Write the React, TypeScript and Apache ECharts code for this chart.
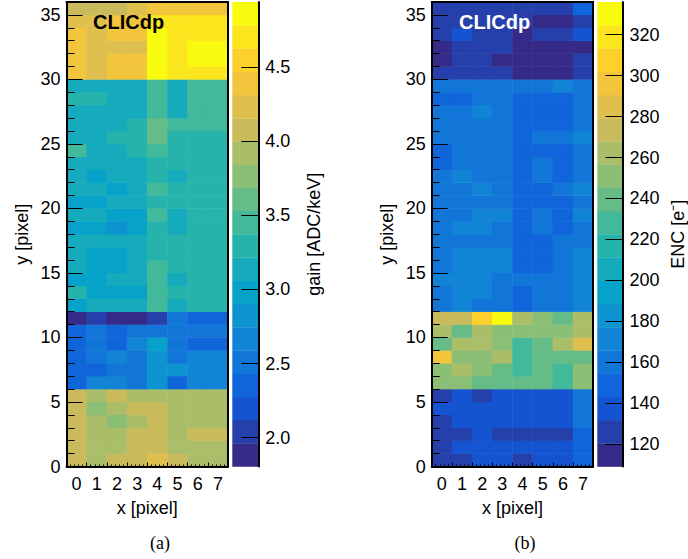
import React, { useEffect, useRef } from "react";
import * as echarts from "echarts";

// ---------- data ----------
const xCategories = ["0", "1", "2", "3", "4", "5", "6", "7"];
const yTickLabels = [0, 5, 10, 15, 20, 25, 30, 35];
const gainTicks = [2.0, 2.5, 3.0, 3.5, 4.0, 4.5];
const encTicks = [120, 140, 160, 180, 200, 220, 240, 260, 280, 300, 320];
const gainRange = [1.805, 4.94];
const encRange = [109, 336];
const nLevels = 20;

// gain [ADC/keV], rows from y = 0 (bottom) to y = 35 (top), columns x = 0..7
const gainRows = [
  [4.08, 3.92, 4.08, 4.08, 4.24, 4.08, 3.92, 3.92],
  [4.08, 3.92, 3.92, 4.08, 4.08, 3.92, 3.92, 3.92],
  [4.08, 3.92, 3.92, 4.08, 4.08, 3.92, 4.08, 4.08],
  [4.08, 3.92, 3.77, 3.92, 4.08, 3.92, 3.92, 3.92],
  [4.08, 3.77, 3.92, 4.08, 4.08, 3.92, 3.92, 3.92],
  [4.08, 3.92, 4.08, 3.92, 3.92, 3.92, 3.92, 3.92],
  [2.35, 2.67, 2.67, 2.51, 2.82, 2.35, 2.67, 2.67],
  [2.35, 2.35, 2.51, 2.51, 2.82, 2.82, 2.67, 2.67],
  [2.35, 2.51, 2.67, 2.51, 2.82, 2.51, 2.67, 2.67],
  [2.35, 2.51, 2.35, 2.67, 2.98, 2.51, 2.35, 2.35],
  [2.35, 2.51, 2.35, 2.51, 2.51, 2.51, 2.51, 2.51],
  [1.88, 2.04, 1.88, 1.88, 2.04, 2.51, 2.35, 2.35],
  [2.98, 3.14, 3.14, 3.14, 3.45, 3.14, 3.29, 3.29],
  [3.29, 2.98, 2.98, 2.98, 3.45, 3.29, 3.29, 3.29],
  [2.98, 2.98, 3.14, 3.14, 3.45, 3.14, 3.29, 3.29],
  [3.14, 2.98, 2.98, 3.14, 3.45, 3.29, 3.29, 3.29],
  [3.14, 2.98, 2.98, 3.14, 3.29, 3.29, 3.29, 3.29],
  [3.14, 3.14, 3.14, 3.14, 3.29, 3.29, 3.29, 3.29],
  [2.98, 2.98, 2.82, 2.98, 3.29, 3.14, 3.29, 3.29],
  [3.14, 3.14, 2.98, 2.98, 3.45, 3.14, 3.29, 3.29],
  [2.98, 2.98, 3.14, 3.14, 3.29, 3.29, 3.29, 3.29],
  [3.14, 3.14, 2.98, 3.14, 3.45, 3.29, 3.29, 3.29],
  [3.14, 2.98, 3.14, 3.14, 3.29, 3.14, 3.29, 3.29],
  [3.14, 3.14, 3.14, 3.14, 3.29, 3.29, 3.29, 3.29],
  [3.45, 3.14, 3.14, 3.29, 3.45, 3.29, 3.29, 3.29],
  [3.14, 3.14, 3.29, 3.29, 3.61, 3.29, 3.29, 3.29],
  [3.14, 3.14, 3.14, 3.29, 3.61, 3.45, 3.45, 3.45],
  [3.14, 3.14, 3.14, 3.14, 3.45, 3.14, 3.45, 3.45],
  [3.29, 3.29, 3.14, 3.14, 3.45, 3.14, 3.45, 3.45],
  [3.14, 3.14, 3.14, 3.14, 3.45, 3.14, 3.45, 3.45],
  [4.39, 4.24, 4.39, 4.39, 4.86, 4.71, 4.71, 4.71],
  [4.39, 4.24, 4.39, 4.39, 4.86, 4.71, 4.86, 4.86],
  [4.39, 4.24, 4.24, 4.24, 4.86, 4.71, 4.86, 4.86],
  [4.39, 4.24, 4.39, 4.39, 4.86, 4.71, 4.71, 4.71],
  [4.24, 4.24, 4.39, 4.39, 4.71, 4.71, 4.71, 4.71],
  [4.08, 4.08, 4.08, 4.24, 4.39, 4.39, 4.39, 4.39],
];

// ENC [e-], rows from y = 0 (bottom) to y = 35 (top), columns x = 0..7
const encRows = [
  [126, 126, 137, 137, 126, 137, 137, 149],
  [126, 137, 137, 137, 137, 137, 137, 149],
  [126, 126, 137, 126, 126, 126, 126, 149],
  [126, 137, 137, 137, 137, 137, 137, 160],
  [137, 137, 137, 137, 137, 137, 137, 160],
  [126, 137, 126, 137, 137, 137, 137, 160],
  [251, 251, 240, 240, 240, 240, 228, 251],
  [251, 262, 251, 240, 228, 240, 228, 251],
  [296, 251, 251, 262, 228, 240, 240, 240],
  [240, 262, 262, 251, 228, 240, 262, 285],
  [262, 240, 262, 251, 251, 251, 251, 262],
  [274, 274, 308, 330, 262, 251, 240, 262],
  [160, 171, 160, 160, 149, 160, 160, 171],
  [160, 171, 171, 160, 149, 160, 160, 171],
  [171, 171, 171, 160, 160, 160, 160, 171],
  [160, 171, 171, 171, 149, 149, 160, 171],
  [160, 171, 171, 171, 149, 149, 160, 171],
  [160, 160, 160, 160, 149, 149, 160, 160],
  [160, 171, 171, 160, 149, 160, 149, 160],
  [160, 160, 171, 171, 149, 160, 149, 171],
  [160, 160, 160, 160, 149, 149, 149, 160],
  [160, 160, 171, 160, 149, 149, 160, 171],
  [160, 171, 160, 160, 149, 160, 149, 160],
  [149, 160, 160, 160, 149, 160, 149, 160],
  [149, 160, 160, 160, 149, 149, 149, 160],
  [160, 160, 160, 160, 149, 160, 160, 171],
  [160, 160, 160, 160, 149, 149, 149, 160],
  [160, 160, 171, 160, 149, 149, 149, 160],
  [149, 149, 160, 160, 149, 149, 149, 160],
  [160, 160, 160, 160, 160, 160, 171, 160],
  [126, 126, 126, 126, 115, 115, 115, 126],
  [115, 126, 126, 115, 115, 115, 115, 126],
  [115, 126, 126, 126, 115, 115, 115, 115],
  [126, 137, 126, 126, 115, 126, 126, 137],
  [126, 126, 126, 126, 126, 115, 115, 126],
  [126, 126, 126, 126, 126, 126, 126, 149],
];

// ---------- palette (ROOT kBird) ----------
const birdR = [0.2082, 0.0592, 0.078, 0.0232, 0.1802, 0.5301, 0.8186, 0.9956, 0.9764];
const birdG = [0.1664, 0.3599, 0.5041, 0.6419, 0.7178, 0.7492, 0.7328, 0.7862, 0.9832];
const birdB = [0.5293, 0.8684, 0.8385, 0.7914, 0.6425, 0.4662, 0.3499, 0.1968, 0.0539];
function bird(t: number) {
  const s = t * 8;
  const k = Math.min(7, Math.floor(s));
  const f = s - k;
  const c = (a: number[]) => Math.round((a[k] + (a[k + 1] - a[k]) * f) * 255);
  return `rgb(${c(birdR)},${c(birdG)},${c(birdB)})`;
}
const palette = Array.from({ length: nLevels }, (_, i) => bird(i / (nLevels - 1)));

const FONT = '"Liberation Sans", Arial, Helvetica, sans-serif';
const axisText = { color: "#000", fontSize: 18, fontFamily: FONT };
const black = { color: "#000", width: 1 };
const frame = { color: "#000", width: 2 };

function buildOption() {
  const grid: any[] = [];
  const xAxis: any[] = [];
  const yAxis: any[] = [];
  const series: any[] = [];
  const visualMap: any[] = [];

  function addPanel(
    left: number,
    barLeft: number,
    rows: number[][],
    range: number[],
    ticks: number[],
    fmt: (v: number) => string,
    title: string
  ) {
    const top = 2;
    const h = 464.5;
    const gh = grid.length;
    grid.push({ left, top, width: 161.5, height: h, show: false });
    const gc = grid.length;
    grid.push({ left: barLeft, top, width: 26, height: h, show: false });

    const xi = xAxis.length;
    xAxis.push({
      type: "category",
      gridIndex: gh,
      data: xCategories,
      position: "bottom",
      z: 5,
      axisLine: { show: true, onZero: false, lineStyle: frame },
      axisTick: { show: true, inside: true, length: 4, alignWithLabel: false, interval: 0, lineStyle: black },
      axisLabel: { ...axisText, margin: 8, interval: 0 },
      splitLine: { show: false },
      name: "x [pixel]",
      nameLocation: "middle",
      nameGap: 32.5,
      nameTextStyle: axisText,
    });
    xAxis.push({
      type: "value",
      gridIndex: gh,
      position: "top",
      min: 0,
      max: 8,
      z: 5,
      axisLine: { show: true, onZero: false, lineStyle: frame },
      axisTick: { show: false },
      axisLabel: { show: false },
      splitLine: { show: false },
    });
    xAxis.push({
      type: "value",
      gridIndex: gh,
      position: "bottom",
      min: 0,
      max: 8,
      interval: 0.2,
      z: 5,
      axisLine: { show: false, onZero: false },
      axisTick: { show: true, inside: true, length: 2, lineStyle: black },
      axisLabel: { show: false },
      splitLine: { show: false },
    });

    const yi = yAxis.length;
    yAxis.push({
      type: "category",
      gridIndex: gh,
      data: rows.map((_, i) => String(i)),
      position: "left",
      z: 5,
      axisLine: { show: true, onZero: false, lineStyle: frame },
      axisTick: { show: true, inside: true, length: 8, alignWithLabel: false, interval: 0, lineStyle: black },
      axisLabel: { show: false },
      splitLine: { show: false },
    });
    yAxis.push({
      type: "value",
      gridIndex: gh,
      position: "left",
      min: 0,
      max: rows.length,
      z: 5,
      axisLine: { show: false, onZero: false },
      axisTick: { show: true, inside: true, length: 16, customValues: yTickLabels, lineStyle: black },
      axisLabel: { ...axisText, customValues: yTickLabels, margin: 6 },
      splitLine: { show: false },
      name: "y [pixel]",
      nameLocation: "middle",
      nameGap: 35.5,
      nameRotate: 90,
      nameTextStyle: axisText,
    });
    yAxis.push({
      type: "value",
      gridIndex: gh,
      position: "right",
      min: 0,
      max: rows.length,
      z: 5,
      axisLine: { show: true, onZero: false, lineStyle: frame },
      axisTick: { show: false },
      axisLabel: { show: false },
      splitLine: { show: false },
    });

    const bxi = xAxis.length;
    xAxis.push({ type: "value", gridIndex: gc, min: 0, max: 1, show: false });
    const byi = yAxis.length;
    yAxis.push({
      type: "value",
      gridIndex: gc,
      position: "right",
      min: range[0],
      max: range[1],
      z: 5,
      axisLine: { show: true, onZero: false, lineStyle: frame },
      axisTick: { show: true, inside: true, length: 17, customValues: ticks, lineStyle: black },
      axisLabel: { ...axisText, customValues: ticks, formatter: fmt, margin: 7 },
      splitLine: { show: false },
      name: title,
      nameLocation: "middle",
      nameGap: 46.5,
      nameRotate: 90,
      nameTextStyle: axisText,
    });

    const step = (range[1] - range[0]) / nLevels;
    const pieces = palette.map((color, i) => ({
      gte: range[0] + i * step,
      lt: range[0] + (i + 1) * step,
      color,
    }));
    const si = series.length;
    series.push({
      type: "heatmap",
      xAxisIndex: xi,
      yAxisIndex: yi,
      z: 2,
      emphasis: { disabled: true },
      itemStyle: { borderWidth: 0 },
      data: rows.flatMap((row, y) => row.map((v, x) => [x, y, v])),
    });
    visualMap.push({ type: "piecewise", show: false, seriesIndex: si, dimension: 2, pieces });

    const bands = palette.map((_, i) => [range[0] + i * step, range[0] + (i + 1) * step, i]);
    series.push({
      type: "custom",
      xAxisIndex: bxi,
      yAxisIndex: byi,
      z: 2,
      silent: true,
      data: bands,
      renderItem: (params: any, api: any) => {
        const p0 = api.coord([0, api.value(1)]);
        const p1 = api.coord([1, api.value(0)]);
        return {
          type: "rect",
          shape: { x: p0[0], y: p0[1], width: p1[0] - p0[0], height: p1[1] - p0[1] + 0.3 },
          style: { fill: palette[api.value(2)] },
        };
      },
    });
  }

  addPanel(66.5, 232.3, gainRows, gainRange, gainTicks, (v: number) => v.toFixed(1), "gain [ADC/keV]");
  addPanel(431.7, 597.3, encRows, encRange, encTicks, (v: number) => String(Math.round(v)), "ENC [e\u207B]");

  const capFont = '18px "Liberation Serif", "DejaVu Serif", serif';
  return {
    animation: false,
    backgroundColor: "#fff",
    grid,
    xAxis,
    yAxis,
    series,
    visualMap,
    graphic: [
      { type: "text", x: 93, y: 22, z: 20, style: { text: "CLICdp", font: `bold 20px ${FONT}`, fill: "#000", textVerticalAlign: "middle" } },
      { type: "text", x: 459, y: 22, z: 20, style: { text: "CLICdp", font: `bold 20px ${FONT}`, fill: "#fff", textVerticalAlign: "middle" } },
      { type: "text", x: 160, y: 543, style: { text: "(a)", font: capFont, fill: "#000", textAlign: "center", textVerticalAlign: "middle" } },
      { type: "text", x: 525, y: 543, style: { text: "(b)", font: capFont, fill: "#000", textAlign: "center", textVerticalAlign: "middle" } },
    ],
  };
}

export default function App() {
  const ref = useRef<HTMLDivElement>(null);
  useEffect(() => {
    if (!ref.current) return;
    const chart = echarts.init(ref.current, undefined, { renderer: "svg" });
    chart.setOption(buildOption() as any);
    return () => chart.dispose();
  }, []);
  return <div ref={ref} style={{ position: "absolute", left: 0, top: 0, width: 688, height: 559, background: "#fff" }} />;
}
